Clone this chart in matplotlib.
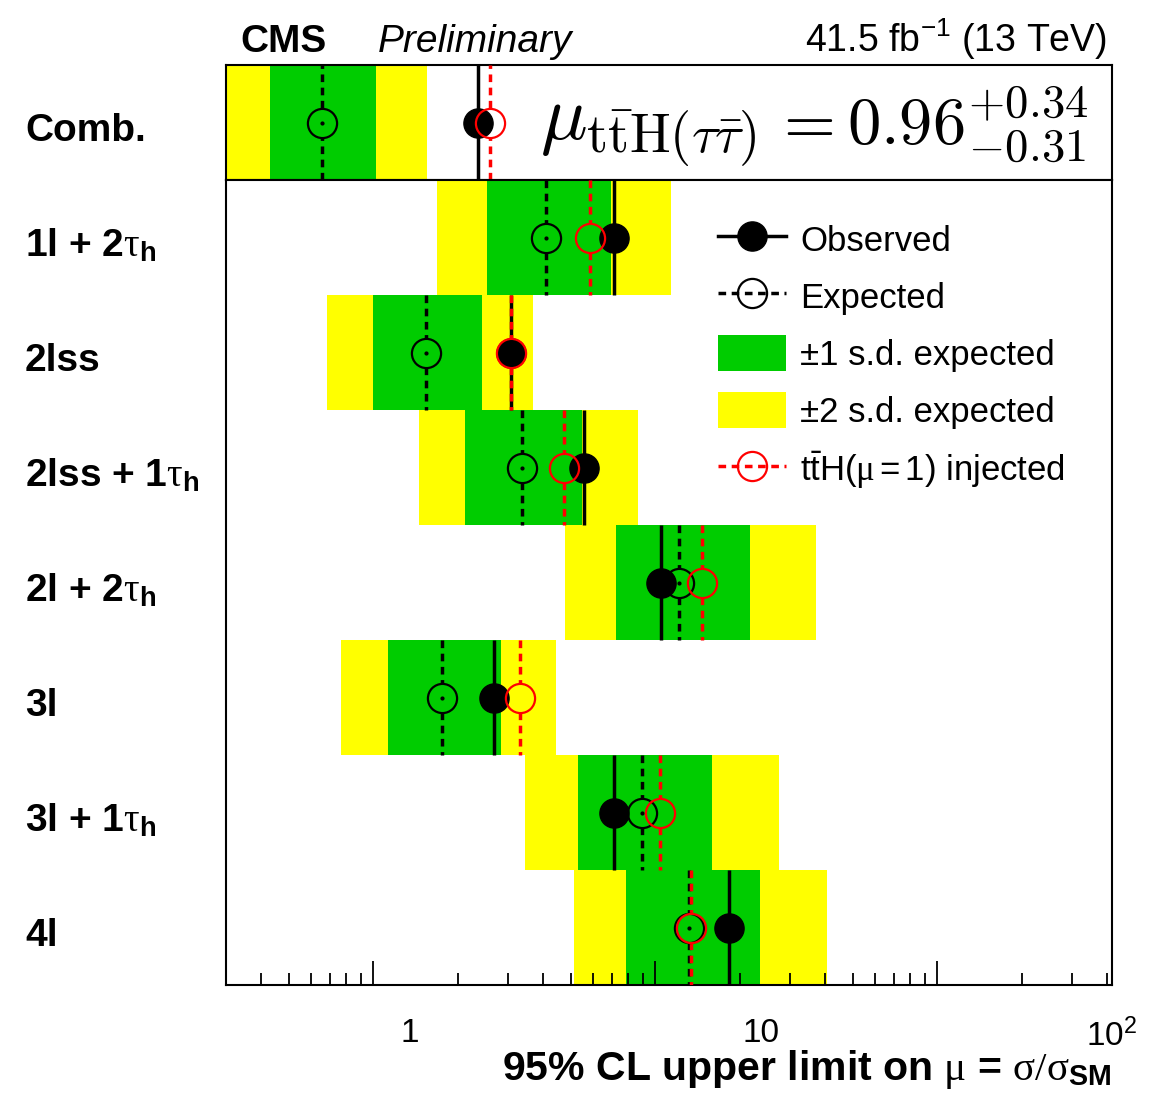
import matplotlib
matplotlib.use('Agg')
import matplotlib.pyplot as plt
from matplotlib import transforms
from matplotlib.lines import Line2D
from matplotlib.patches import Patch

plt.rcParams['font.family'] = ['Liberation Sans', 'DejaVu Sans']
plt.rcParams['mathtext.fontset'] = 'custom'
plt.rcParams['mathtext.rm'] = 'Liberation Serif'
plt.rcParams['mathtext.it'] = 'Liberation Serif:italic'
plt.rcParams['mathtext.bf'] = 'Liberation Sans:bold'
plt.rcParams['mathtext.sf'] = 'Liberation Sans'

# 95% CL upper limits, combination
comb = dict(lo2=0.29, lo1=0.40, exp=0.563, hi1=0.80, hi2=1.12, obs=1.57, inj=1.69)

# per category
categories = [r'1l + 2$\mathrm{\tau}_{\mathbf{h}}$', '2lss', r'2lss + 1$\mathrm{\tau}_{\mathbf{h}}$',
              r'2l + 2$\mathrm{\tau}_{\mathbf{h}}$', '3l', r'3l + 1$\mathrm{\tau}_{\mathbf{h}}$', '4l']
lo2 = [1.20, 0.583, 1.06, 2.77, 0.638, 2.13, 2.93]
lo1 = [1.665, 0.787, 1.44, 3.88, 0.865, 3.01, 4.12]
expected = [2.44, 1.116, 2.09, 5.86, 1.24, 4.59, 6.23]
hi1 = [3.74, 1.608, 3.10, 9.29, 1.82, 7.28, 9.92]
hi2 = [5.56, 2.243, 4.47, 14.4, 2.61, 11.3, 15.4]
observed = [3.81, 1.945, 3.13, 5.21, 1.735, 3.81, 8.13]
injected = [3.26, 1.945, 2.75, 6.78, 2.06, 5.16, 6.32]

GREEN = '#00cc00'
YELLOW = '#ffff00'
LW = 2.5
DASH = (2.2, 1.6)
MS = 21
GAP = 0.13  # half marker height in row units

W, H = 1170, 1101
fig = plt.figure(figsize=(W / 100, H / 100), dpi=100)
x0, x1 = 226 / W, 1112 / W
ax_top = fig.add_axes([x0, 1 - 180 / H, x1 - x0, 115 / H])
ax = fig.add_axes([x0, 1 - 985 / H, x1 - x0, 805 / H], sharex=ax_top)


def draw_row(a, y, half, b2lo, b1lo, exp, b1hi, b2hi, obs, inj):
    a.barh(y, b2hi - b2lo, left=b2lo, height=2 * half, color=YELLOW, lw=0, zorder=1)
    a.barh(y, b1hi - b1lo, left=b1lo, height=2 * half, color=GREEN, lw=0, zorder=2)
    # observed solid line through the full row
    a.vlines(obs, y - half, y + half, color='black', lw=LW, zorder=3)
    # dashed lines broken at the markers
    for xv, col in ((exp, 'black'), (inj, 'red')):
        a.vlines([xv, xv], [y - half, y + GAP], [y - GAP, y + half], color=col, lw=LW,
                 linestyles=[(0, DASH)], zorder=3)
    a.plot(exp, y, 'o', ms=MS, mfc='none', mec='black', mew=1.6, zorder=4)
    a.plot(exp, y, 'o', ms=2, color='black', zorder=4)
    a.plot(obs, y, 'o', ms=MS, color='black', zorder=5)
    a.plot(inj, y, 'o', ms=MS, mfc='none', mec='red', mew=1.6, zorder=6)


draw_row(ax_top, 0.5, 0.5, comb['lo2'], comb['lo1'], comb['exp'], comb['hi1'], comb['hi2'],
         comb['obs'], comb['inj'])
for i in range(len(categories)):
    draw_row(ax, i + 0.5, 0.5, lo2[i], lo1[i], expected[i], hi1[i], hi2[i], observed[i], injected[i])

ax.set_xscale('log')
ax.set_xlim(0.3, 100)
ax.set_ylim(len(categories), 0)
ax_top.set_ylim(0, 1)
for a in (ax, ax_top):
    a.set_yticks([])
    for s in a.spines.values():
        s.set_linewidth(1.5)
ax_top.tick_params(axis='x', which='both', length=0, labelbottom=False)
ax.set_xticks([1, 10, 100], ['1', '10', r'$\mathsf{10^{2}}$'])
ax.xaxis.set_minor_locator(matplotlib.ticker.NullLocator())
ax.tick_params(axis='x', which='both', length=0, pad=24, labelsize=24)

# tick marks of the frame
ax_ticks = fig.add_axes(ax.get_position(), frameon=False)
ax_ticks.set_xscale('log')
ax_ticks.set_xlim(0.3, 416)
ax_ticks.set_yticks([])
ax_ticks.patch.set_alpha(0)
ax_ticks.tick_params(axis='x', which='major', direction='in', length=17, width=1.3, labelbottom=False)
ax_ticks.tick_params(axis='x', which='minor', direction='in', length=9, width=1.3, labelbottom=False)

# row labels
tr = transforms.blended_transform_factory(fig.transFigure, ax.transData)
for i, lab in enumerate(categories):
    ax.text(25 / W, i + 0.5 + 0.16, lab, transform=tr, ha='left', va='baseline',
            fontsize=28, fontweight='bold')
tr_top = transforms.blended_transform_factory(fig.transFigure, ax_top.transData)
ax_top.text(25 / W, 0.5 - 0.16, 'Comb.', transform=tr_top, ha='left', va='baseline',
            fontsize=28, fontweight='bold')

# signal strength of the combination
ax_top.text(540 / W, 0.35, r'$\mu_{\mathrm{t\bar{t}H}(\tau\bar{\tau})}$', transform=tr_top,
            ha='left', va='baseline', fontsize=56, math_fontfamily='cm')
ax_top.text(1088 / W, 0.30, r'$= 0.96^{+0.34}_{-0.31}$', transform=tr_top,
            ha='right', va='baseline', fontsize=48, math_fontfamily='cm')

fig.text(240 / W, 1 - 52 / H, 'CMS', fontsize=28, fontweight='bold', va='baseline')
fig.text(378 / W, 1 - 52 / H, 'Preliminary', fontsize=28, style='italic', va='baseline')
fig.text(1107 / W, 1 - 52 / H, r'41.5 fb$\mathsf{^{-1}}$ (13 TeV)', fontsize=27, ha='right', va='baseline')

fig.text(1112 / W, 1 - 1080 / H,
         r'95% CL upper limit on $\mathrm{\mu}$ = $\mathrm{\sigma/\sigma}_{\mathbf{SM}}$',
         fontsize=29.5, fontweight='bold', ha='right', va='baseline')

handles = [
    Line2D([], [], color='black', lw=LW, marker='o', ms=MS),
    Line2D([], [], color='black', lw=LW, ls=(0, DASH), marker='o', ms=MS, mfc='none', mew=1.6),
    Patch(color=GREEN, lw=0),
    Patch(color=YELLOW, lw=0),
    Line2D([], [], color='red', lw=LW, ls=(0, DASH), marker='o', ms=MS, mfc='none', mew=1.6),
]
labels = ['Observed', 'Expected', u'\u00b11 s.d. expected', u'\u00b12 s.d. expected',
          r'$\mathsf{t\bar{t}H(}\mathrm{\mu}\mathsf{=1)}$ injected']
ax.legend(handles, labels, loc='upper left', bbox_to_anchor=(718 / W, 1 - 221 / H),
          bbox_transform=fig.transFigure, frameon=False, fontsize=25, borderpad=0,
          borderaxespad=0, handlelength=1.95, handleheight=1.2, handletextpad=0.42,
          labelspacing=0.59)

fig.savefig('out.png', dpi=100)
